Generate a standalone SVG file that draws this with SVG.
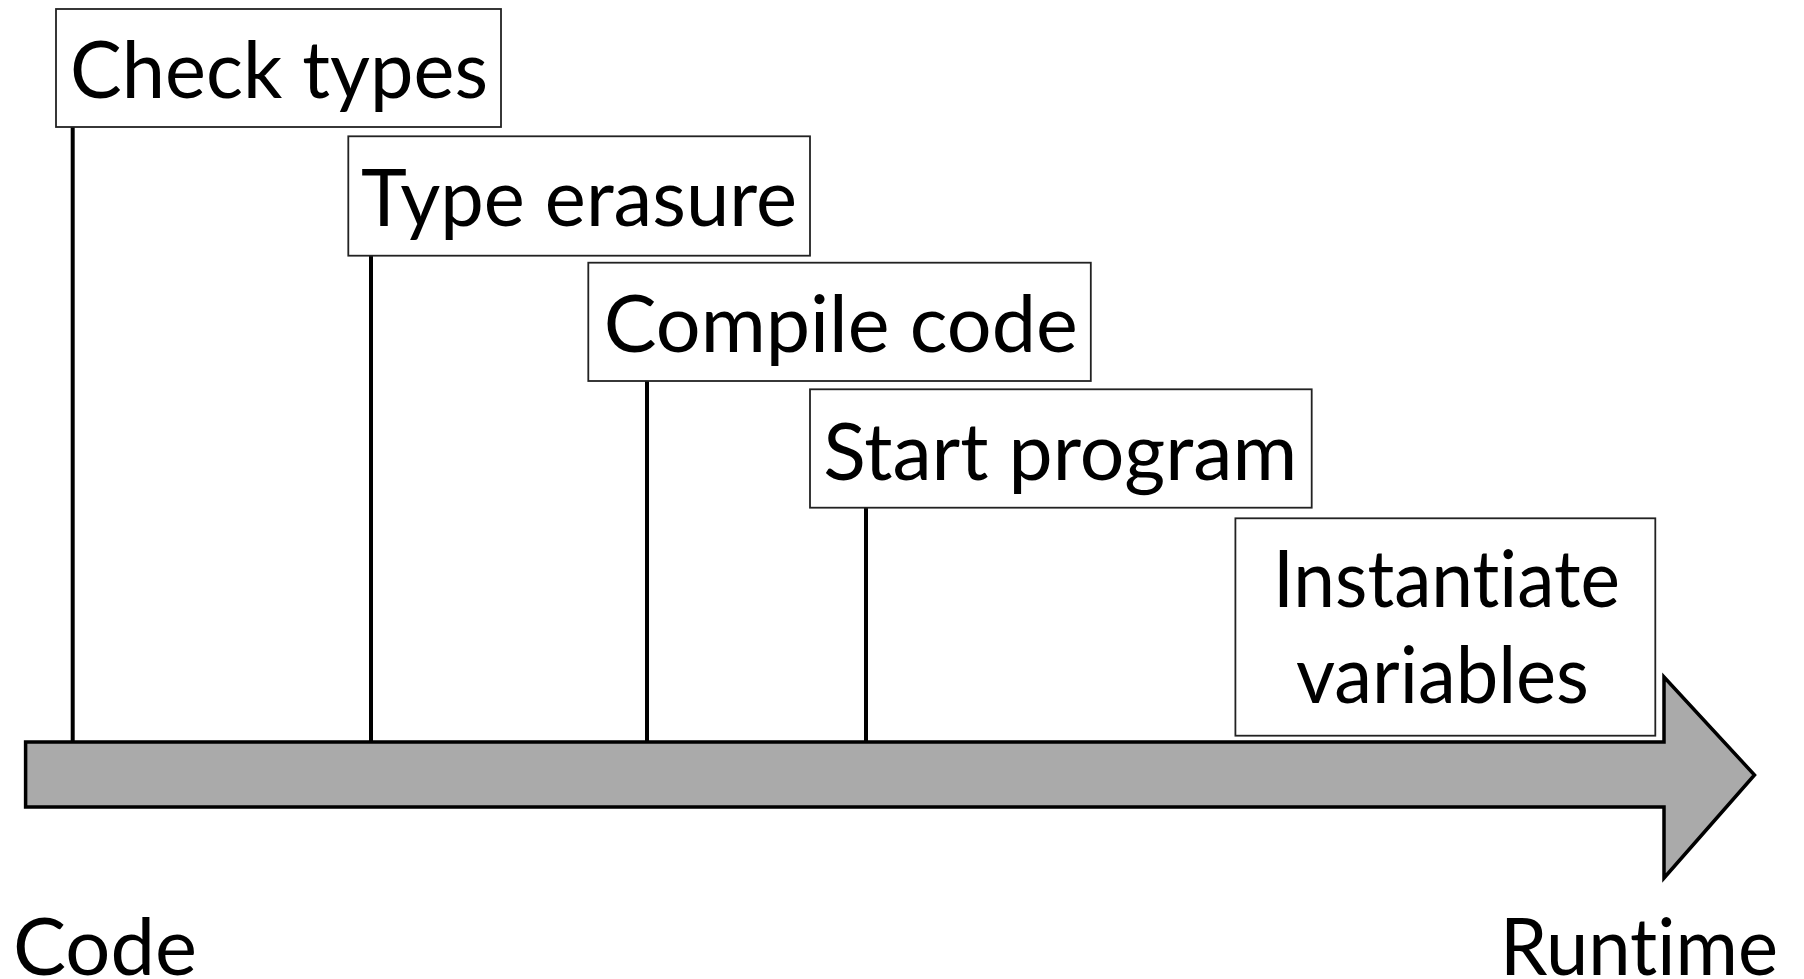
<svg xmlns="http://www.w3.org/2000/svg" width="1804" height="979" viewBox="0 0 1804 979">
<style>
.box{fill:#fff;stroke:#222;stroke-width:1.8}
.lbl{font-family:"Lato","Open Sans","Liberation Sans",sans-serif;font-size:80px;fill:#000;text-anchor:middle;font-variant-ligatures:none;font-feature-settings:"liga" 0}
.tick{stroke:#000;stroke-width:4;fill:none}
.bar{fill:#aaaaaa;stroke:#000;stroke-width:3.5;stroke-linejoin:miter}
</style>
<rect width="1804" height="979" fill="#fff"/>
<g id="connectors">
<line class="tick" x1="72.7" y1="127" x2="72.7" y2="742"/>
<line class="tick" x1="371" y1="256" x2="371" y2="742"/>
<line class="tick" x1="647" y1="381" x2="647" y2="742"/>
<line class="tick" x1="866" y1="508" x2="866" y2="742"/>
</g>
<g id="timeline">
<polygon class="bar" points="25.6,742 1664,742 1664,677 1754.5,775 1664,878 1664,807 25.6,807"/>
</g>
<g id="check-types">
<rect class="box" x="56" y="9" width="445" height="118"/>
<text class="lbl" x="279" y="97.7" textLength="418" lengthAdjust="spacingAndGlyphs">Check types</text>
</g>
<g id="type-erasure">
<rect class="box" x="348.3" y="136.3" width="461.7" height="119.4"/>
<text class="lbl" x="579" y="226" textLength="436" lengthAdjust="spacingAndGlyphs">Type erasure</text>
</g>
<g id="compile-code">
<rect class="box" x="588.3" y="262.7" width="502.5" height="118.3"/>
<text class="lbl" x="840.8" y="351.7" textLength="474" lengthAdjust="spacingAndGlyphs">Compile code</text>
</g>
<g id="start-program">
<rect class="box" x="810" y="389.3" width="501.7" height="118.4"/>
<text class="lbl" x="1060.2" y="480" textLength="474" lengthAdjust="spacingAndGlyphs">Start program</text>
</g>
<g id="instantiate-variables">
<rect class="box" x="1235.4" y="518.3" width="419.9" height="217.4"/>
<text class="lbl" x="1446.5" y="607.3" textLength="347" lengthAdjust="spacingAndGlyphs">Instantiate</text>
<text class="lbl" x="1442.5" y="703" textLength="293" lengthAdjust="spacingAndGlyphs">variables</text>
</g>
<g id="code">
<text class="lbl" x="105" y="975" textLength="184" lengthAdjust="spacingAndGlyphs">Code</text>
</g>
<g id="runtime">
<text class="lbl" x="1639" y="975" textLength="278" lengthAdjust="spacingAndGlyphs">Runtime</text>
</g>
</svg>
